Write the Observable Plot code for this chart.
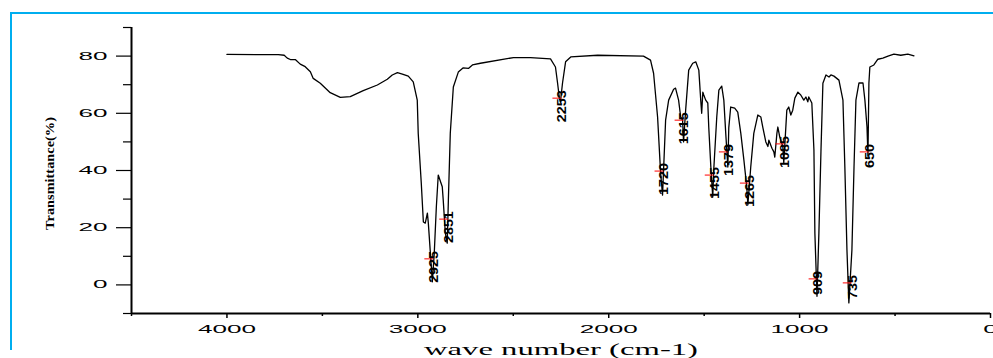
<!DOCTYPE html>
<html>
<head>
<meta charset="utf-8">
<script src="https://cdn.jsdelivr.net/npm/d3@7"></script>
<script src="https://cdn.jsdelivr.net/npm/@observablehq/plot@0.6"></script>
<style>
  html, body { margin: 0; padding: 0; background: #fff; }
  #wrap { position: relative; width: 993px; height: 358px; overflow: hidden; }
  #frame { position: absolute; left: 10px; top: 12px; width: 1100px; height: 336px;
           border-left: 2.5px solid #00AEEF; border-top: 2.5px solid #00AEEF; pointer-events: none; }
</style>
</head>
<body>
<div id="wrap"><div id="frame"></div></div>
<script>
// Spectrum (wave number cm-1, transmittance %)
const wavenumber = [4000,3731,3700,3684,3668,3642,3616,3590,3563,3548,3511,3459,3406,3354,3286,3212,3160,3134,3107,3081,3050,3024,3003,2998,2982,2971,2961,2950,2945,2924,2914,2903,2893,2872,2867,2856,2846,2840,2830,2814,2788,2762,2735,2714,2672,2499,2410,2305,2279,2268,2258,2253,2242,2226,2199,2058,1818,1781,1765,1744,1728,1718,1702,1686,1660,1650,1634,1623,1613,1608,1597,1581,1560,1544,1528,1518,1513,1507,1502,1492,1481,1476,1465,1455,1450,1434,1423,1408,1397,1387,1376,1371,1361,1340,1324,1308,1292,1277,1271,1256,1240,1219,1203,1193,1177,1166,1161,1145,1135,1130,1119,1114,1104,1088,1083,1067,1057,1046,1036,1025,1009,994,978,967,957,952,936,925,920,909,899,888,878,862,846,836,820,794,773,763,752,742,726,715,705,689,668,658,647,642,637,632,611,590,564,537,506,470,433,401];
const transmittance = [80.6,80.5,80.3,79.3,78.8,78.8,77.2,76.3,74.5,72.2,70.5,67.2,65.6,65.8,67.9,69.9,71.9,73.4,74.2,73.7,73.0,71.0,64.6,53.0,35.6,22.0,21.6,25.1,21.6,1.1,11.0,27.3,38.4,34.3,29.7,18.1,14.6,29.7,53.0,69.2,74.4,75.9,75.7,76.9,77.5,79.5,79.5,79.0,76.2,70.6,65.0,64.0,70.6,78.0,79.7,80.3,80.0,78.6,74.0,58.7,39.0,31.4,57.6,64.6,68.4,68.8,64.6,58.7,57.6,50.0,61.1,75.1,77.5,78.0,75.1,64.6,60.0,67.4,66.4,64.6,63.6,55.2,41.2,30.7,40.0,58.7,68.1,69.5,64.6,53.0,41.2,55.0,62.2,61.8,60.4,53.0,43.7,34.3,28.0,41.2,53.0,59.4,58.7,55.2,50.0,48.4,50.6,47.8,46.5,44.7,53.0,55.2,51.7,48.4,42.6,61.1,62.2,59.4,61.1,65.3,67.4,66.4,64.6,65.7,64.0,65.7,63.6,47.2,18.1,-4.0,18.1,47.2,70.5,73.4,72.7,73.4,73.0,71.6,64.6,41.2,12.2,-6.3,12.2,41.2,64.6,70.6,70.6,64.6,55.2,45.0,70.6,76.2,76.9,78.9,79.3,80.0,80.7,80.3,80.7,80.1];

// Peak annotations
const peakLabels = ["2925","2851","2253","1720","1615","1455","1379","1265","1085","909","735","650"];
const peakX = [2924,2846,2253,1718,1613,1455,1381,1271,1085,911,732,643];
const peakY = [9.1,23,65.3,39.8,57.6,38.4,46.5,35.6,49.3,2.1,0.7,46.5];

// Axis ticks
const xTicks = [4000,3000,2000,1000,0];
const xMinor = [4500,3500,2500,1500,500];
const yTicks = [0,20,40,60,80];
const yMinor = [-10,10,30,50,70,90];
const xTitle = "wave number (cm-1)";
const yTitle = "Transmittance(%)";

const spectrum = wavenumber.map((w, i) => ({w, t: transmittance[i]}));
const peaks = peakLabels.map((label, i) => ({label, w: peakX[i], t: peakY[i]}));

const hline = { draw(ctx) { ctx.moveTo(-4.5, 0); ctx.lineTo(4.5, 0); } };

const chart = Plot.plot({
  width: 993,
  height: 358,
  marginLeft: 131,
  marginRight: 3,
  marginTop: 27,
  marginBottom: 45,
  style: { fontFamily: "Liberation Sans, Arial, sans-serif", fontSize: "11px", background: "transparent", overflow: "visible" },
  x: { domain: [4500, 0] },
  y: { domain: [-10, 90] },
  marks: [
    Plot.axisX(xTicks, { tickSize: 5, tickPadding: 7, strokeWidth: 1.5, label: null, fontSize: 11, tickFormat: d => String(d) }),
    Plot.axisX(xMinor, { tickSize: 3, tickFormat: () => "", strokeWidth: 1.5, label: null }),
    Plot.axisY(yTicks, { tickSize: 15, tickPadding: 9, strokeWidth: 1.2, label: null, fontSize: 11, tickFormat: d => String(d) }),
    Plot.axisY(yMinor, { tickSize: 8, tickFormat: () => "", strokeWidth: 1.2, label: null }),
    Plot.ruleX([4500], { strokeWidth: 2 }),
    Plot.ruleY([-10], { strokeWidth: 2 }),
    Plot.line(spectrum, { x: "w", y: "t", stroke: "black", strokeWidth: 1.3 }),
    Plot.dot(peaks, { x: "w", y: "t", symbol: hline, stroke: "red", strokeWidth: 1, dx: -3.5 }),
    Plot.text(peaks, { x: "w", y: "t", text: "label", rotate: -90, textAnchor: "end", dx: 2, dy: -8,
                       fontSize: 12, fontWeight: "bold", fill: "black" }),
    Plot.text([yTitle], { frameAnchor: "left", textAnchor: "middle", lineAnchor: "middle", dx: -82, dy: 3, rotate: -90,
                          fontFamily: "Liberation Serif, serif", fontWeight: "bold", fontSize: 13 }),
    Plot.text([xTitle], { frameAnchor: "bottom", textAnchor: "middle", lineAnchor: "middle", dy: 36,
                          fontFamily: "Liberation Serif, serif", fontSize: 16 })
  ]
});

const svg = d3.select(chart);
const numeric = new Set([...xTicks, ...yTicks].map(String));
const peakSet = new Set(peakLabels);
svg.selectAll("text").each(function() {
  const s = this.textContent;
  const t = d3.select(this);
  if (s === xTitle) {
    t.attr("textLength", 274).attr("lengthAdjust", "spacingAndGlyphs");
  } else if (s === yTitle) {
    t.attr("textLength", 113).attr("lengthAdjust", "spacingAndGlyphs");
  } else if (peakSet.has(s)) {
    t.attr("textLength", s.length * 8).attr("lengthAdjust", "spacingAndGlyphs");
  } else if (numeric.has(s)) {
    t.attr("textLength", s.length * 14.5).attr("lengthAdjust", "spacingAndGlyphs");
  }
});

const wrap = document.getElementById("wrap");
wrap.insertBefore(chart, wrap.firstChild);
</script>
</body>
</html>
